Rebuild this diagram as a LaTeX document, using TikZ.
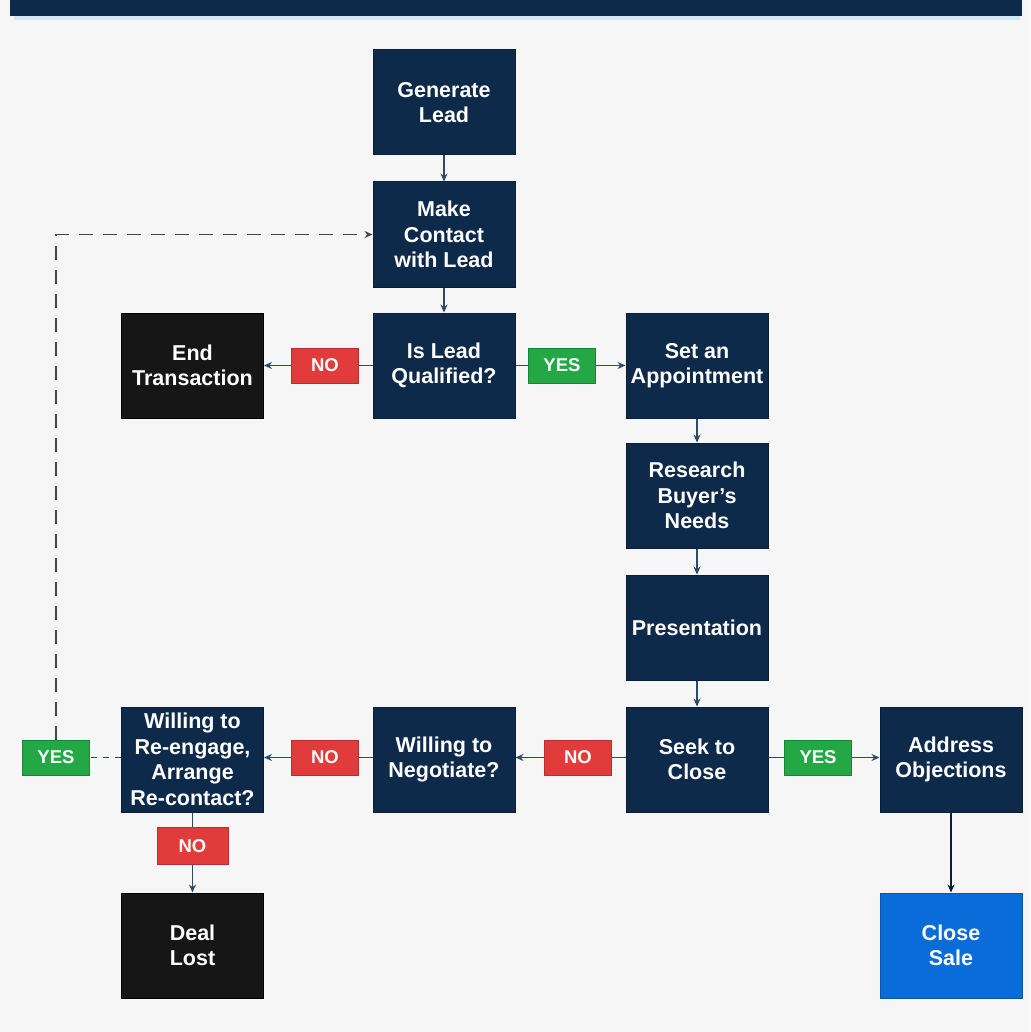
\documentclass[tikz,border=0pt]{standalone}
\usepackage{fontspec}
\setmainfont{Liberation Sans}
\usetikzlibrary{arrows.meta}
\definecolor{bg}{HTML}{F6F6F6}
\definecolor{navy}{HTML}{0E2A4A}
\definecolor{navyedge}{HTML}{0A1E36}
\definecolor{blk}{HTML}{161616}
\definecolor{bluebox}{HTML}{0A6CD8}
\definecolor{redlab}{HTML}{E23B3B}
\definecolor{greenlab}{HTML}{23A845}
\definecolor{arrc}{HTML}{2E4A6B}
\definecolor{lightstrip}{HTML}{CFE9FA}
\definecolor{dashc}{HTML}{444444}
\tikzset{
  box/.style={rectangle, minimum width=142pt, minimum height=105pt, inner sep=1pt,
    align=center, text=white, font=\fontsize{21.5}{25.5}\selectfont\bfseries,
    fill=navy, draw=navyedge, line width=1pt},
  blackbox/.style={box, fill=blk, draw=black},
  salebox/.style={box, fill=bluebox, draw=bluebox!80!black},
  lab/.style={rectangle, minimum width=67pt, minimum height=35pt, inner sep=1pt,
    text=white, font=\fontsize{18.5}{20}\selectfont\bfseries, line width=1pt},
  nolab/.style={lab, fill=redlab, draw=redlab!80!black},
  yeslab/.style={lab, fill=greenlab, draw=greenlab!80!black},
  conn/.style={draw=arrc, line width=1.6pt},
  arr/.style={conn, -{Stealth[length=8pt,width=7pt]}},
}
\begin{document}
\begin{tikzpicture}[x=1pt,y=-1pt]
\useasboundingbox (0,0) rectangle (1030,1032);
\fill[bg] (0,0) rectangle (1030,1032);
\fill[lightstrip] (14,14) rectangle (1020,20);
\fill[navy] (10,0) rectangle (1022,16);

\node[box] (gen) at (444,102.5) {Generate\\Lead};
\node[box] (contact) at (444,234.5) {Make\\Contact\\with Lead};
\node[box] (qual) at (444,365.5) {Is Lead\\Qualified?};
\node[blackbox] (endt) at (192.5,365.5) {End\\Transaction};
\node[box] (appt) at (697,365.5) {Set an\\Appointment};
\node[box] (research) at (697,495.5) {Research\\Buyer's\\Needs};
\node[box] (pres) at (697,627.5) {Presentation};
\node[box] (seek) at (697,759.5) {Seek to\\Close};
\node[box] (addr) at (951,759.5) {Address\\Objections};
\node[salebox] (close) at (951,945.5) {Close\\Sale};
\node[box] (nego) at (444,759.5) {Willing to\\Negotiate?};
\node[box] (reeng) at (192.5,759.5) {Willing to\\Re-engage,\\Arrange\\Re-contact?};
\node[blackbox] (lost) at (192.5,945.5) {Deal\\Lost};

\node[nolab] (no1) at (325,365.5) {NO};
\node[yeslab] (yes1) at (562,365.5) {YES};
\node[nolab] (no2) at (578,757.5) {NO};
\node[nolab] (no3) at (325,757.5) {NO};
\node[nolab, minimum width=71pt, minimum height=37pt] (no4) at (192.5,846) {NO};
\node[yeslab] (yes3) at (818,757.5) {YES};
\node[yeslab] (yes2) at (56,757.5) {YES};

\draw[arr] (gen) -- (contact);
\draw[arr] (contact) -- (qual);
\draw[conn] (qual) -- (no1);
\draw[arr] (no1) -- (endt);
\draw[conn] (qual) -- (yes1);
\draw[arr] (yes1) -- (appt);
\draw[arr] (appt) -- (research);
\draw[arr] (research) -- (pres);
\draw[arr] (pres) -- (seek);
\draw[conn] (seek.west |- no2) -- (no2);
\draw[arr] (no2) -- (nego.east |- no2);
\draw[conn] (nego.west |- no3) -- (no3);
\draw[arr] (no3) -- (reeng.east |- no3);
\draw[conn] (seek.east |- yes3) -- (yes3);
\draw[arr] (yes3) -- (addr.west |- yes3);
\draw[arr, draw=navyedge] (addr) -- (close);
\draw[conn] (reeng) -- (no4);
\draw[arr] (no4) -- (lost);
\draw[conn, dash pattern=on 6pt off 6pt] (reeng.west |- yes2) -- (yes2);
\draw[arr, dash pattern=on 14pt off 10pt, draw=dashc] (yes2.north) |- (contact.west);
\end{tikzpicture}
\end{document}
